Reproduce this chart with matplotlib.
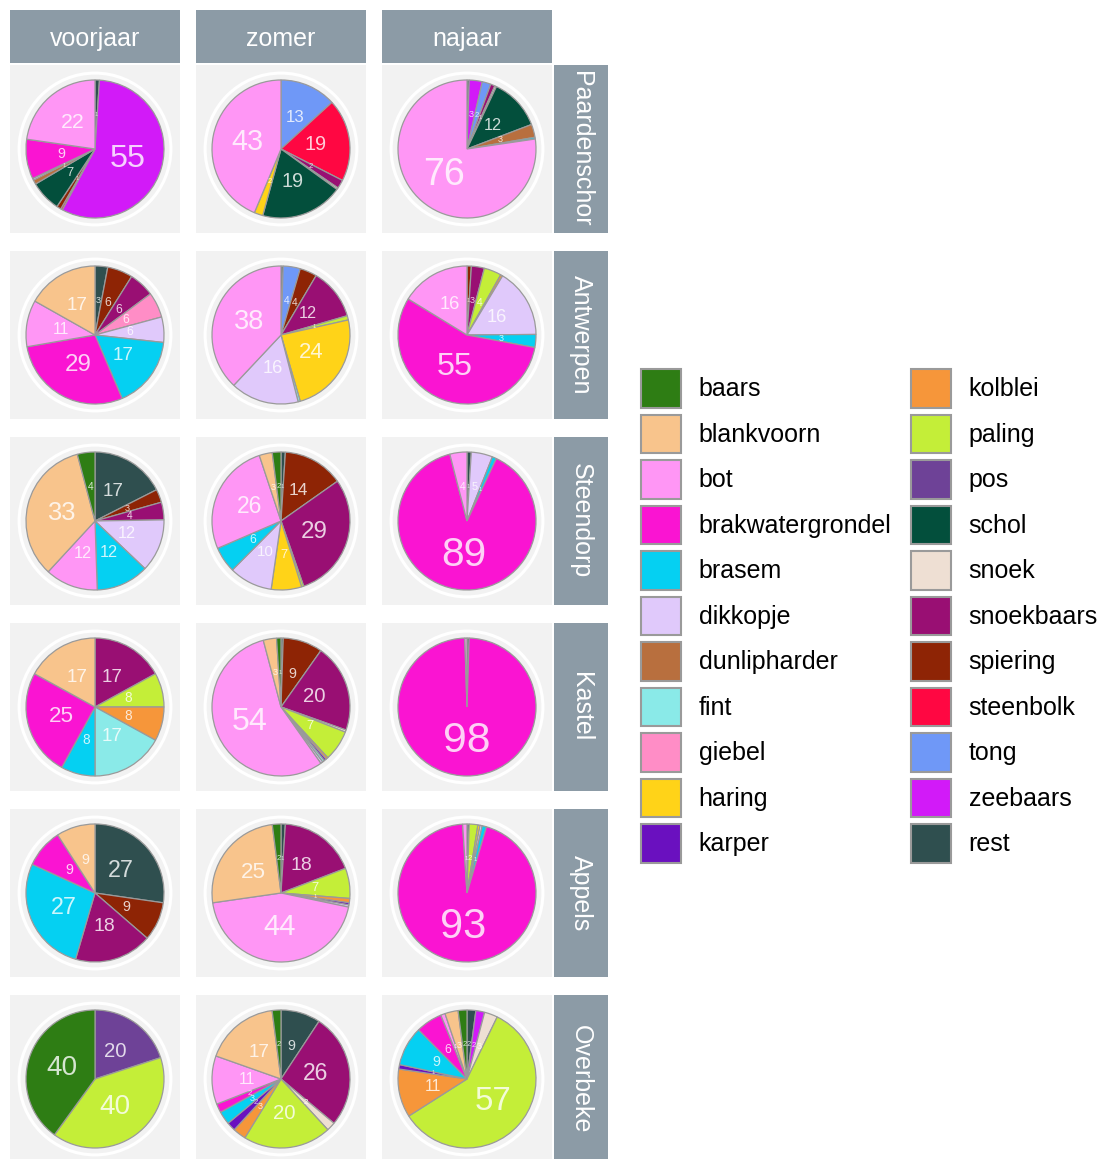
import numpy as np
import matplotlib
matplotlib.use("Agg")
import matplotlib.pyplot as plt
from matplotlib.patches import Patch, Circle
from matplotlib.colors import to_rgb

plt.rcParams['font.family'] = ['Liberation Sans', 'DejaVu Sans']

# species (factor levels) and their fill colours
species = ["baars", "blankvoorn", "bot", "brakwatergrondel", "brasem", "dikkopje",
           "dunlipharder", "fint", "giebel", "haring", "karper", "kolblei", "paling",
           "pos", "schol", "snoek", "snoekbaars", "spiering", "steenbolk", "tong",
           "zeebaars", "rest"]
species_colors = ["#2E7D14", "#F8C48C", "#FF96F5", "#FA14D2", "#05D0F2", "#E0C9FB",
                  "#B86F3E", "#8AEAE8", "#FF8DC6", "#FFD318", "#6A10BF", "#F6963A",
                  "#C4EE38", "#6E4297", "#034F3C", "#EEDFD3", "#990F73", "#8E2405",
                  "#FF0742", "#6F98F7", "#D21AF8", "#2F4F4F"]

seasons = ["voorjaar", "zomer", "najaar"]
locations = ["Paardenschor", "Antwerpen", "Steendorp", "Kastel", "Appels", "Overbeke"]

# catch composition (%) per location and season
paardenschor_voorjaar = dict(rest=1, zeebaars=55, steenbolk=0.4, spiering=1, schol=7,
                             dunlipharder=1, dikkopje=0.4, brakwatergrondel=9, bot=22)
paardenschor_zomer = dict(tong=13, steenbolk=19, snoekbaars=2, snoek=0.4, schol=19,
                          haring=2, bot=43)
paardenschor_najaar = dict(rest=0.5, zeebaars=3, tong=2, snoekbaars=1, snoek=0.4,
                           schol=12, dunlipharder=3, brasem=0.4, bot=76)

antwerpen_voorjaar = dict(rest=3, spiering=6, snoekbaars=6, giebel=6, dikkopje=6,
                          brasem=17, brakwatergrondel=29, bot=11, blankvoorn=17)
antwerpen_zomer = dict(rest=0.5, tong=4, spiering=4, snoekbaars=12, paling=1,
                       haring=24, fint=0.5, dikkopje=16, bot=38)
antwerpen_najaar = dict(spiering=1, snoekbaars=3, paling=4, kolblei=0.5, dikkopje=16,
                        brasem=3, brakwatergrondel=55, bot=16)

steendorp_voorjaar = dict(rest=17, spiering=3, snoekbaars=4, dikkopje=12, brasem=12,
                          bot=12, blankvoorn=33, baars=4)
steendorp_zomer = dict(rest=1, spiering=14, snoekbaars=29, paling=0.5, haring=7,
                       dikkopje=10, brasem=6, bot=26, blankvoorn=3, baars=2)
steendorp_najaar = dict(rest=1, dikkopje=5, brasem=1, brakwatergrondel=89, bot=4)

kastel_voorjaar = dict(snoekbaars=17, paling=8, kolblei=8, fint=17, brasem=8,
                       brakwatergrondel=25, blankvoorn=17)
kastel_zomer = dict(rest=0.5, spiering=9, snoekbaars=20, snoek=0.5, paling=7,
                    kolblei=0.5, karper=0.5, fint=0.5, dikkopje=0.5, bot=54,
                    blankvoorn=3, baars=1)
kastel_najaar = dict(rest=0.5, brakwatergrondel=98, bot=0.5)

appels_voorjaar = dict(rest=27, spiering=9, snoekbaars=18, brasem=27,
                       brakwatergrondel=9, blankvoorn=9)
appels_zomer = dict(rest=1, snoekbaars=18, paling=7, kolblei=1, karper=0.5,
                    dikkopje=0.5, bot=44, blankvoorn=25, baars=2)
appels_najaar = dict(rest=0.5, paling=2, haring=0.5, dikkopje=0.5, brasem=1,
                     brakwatergrondel=93, bot=1)

overbeke_voorjaar = dict(pos=20, paling=40, baars=40)
overbeke_zomer = dict(rest=9, snoekbaars=26, snoek=2, paling=20, kolblei=3, karper=2,
                      brasem=3, brakwatergrondel=2, bot=11, blankvoorn=17, baars=2)
overbeke_najaar = dict(rest=2, zeebaars=2, snoek=3, paling=57, kolblei=11, karper=1,
                       brasem=9, brakwatergrondel=6, bot=1, blankvoorn=3, baars=2)

panels = {
    ("Paardenschor", "voorjaar"): paardenschor_voorjaar,
    ("Paardenschor", "zomer"): paardenschor_zomer,
    ("Paardenschor", "najaar"): paardenschor_najaar,
    ("Antwerpen", "voorjaar"): antwerpen_voorjaar,
    ("Antwerpen", "zomer"): antwerpen_zomer,
    ("Antwerpen", "najaar"): antwerpen_najaar,
    ("Steendorp", "voorjaar"): steendorp_voorjaar,
    ("Steendorp", "zomer"): steendorp_zomer,
    ("Steendorp", "najaar"): steendorp_najaar,
    ("Kastel", "voorjaar"): kastel_voorjaar,
    ("Kastel", "zomer"): kastel_zomer,
    ("Kastel", "najaar"): kastel_najaar,
    ("Appels", "voorjaar"): appels_voorjaar,
    ("Appels", "zomer"): appels_zomer,
    ("Appels", "najaar"): appels_najaar,
    ("Overbeke", "voorjaar"): overbeke_voorjaar,
    ("Overbeke", "zomer"): overbeke_zomer,
    ("Overbeke", "najaar"): overbeke_najaar,
}

color_of = dict(zip(species, species_colors))

PANEL_BG = "#F2F2F2"
STRIP_BG = "#8C9BA6"
EDGE = "#9A9A9A"

W, H = 1105, 1159
fig = plt.figure(figsize=(W / 100, H / 100), dpi=100)
fig.patch.set_facecolor("white")

col_x = [10, 196, 382]
row_y = [65, 251, 437, 623, 809, 995]
PW, PH = 170, 168
R_PX = 69.0  # pie radius in pixels


def px_axes(x, y, w, h):
    return fig.add_axes([x / W, 1 - (y + h) / H, w / W, h / H])


def lighten(c, k=0.8):
    r, g, b = to_rgb(c)
    return (r + (1 - r) * k, g + (1 - g) * k, b + (1 - b) * k)


for i, loc in enumerate(locations):
    for j, season in enumerate(seasons):
        ax = px_axes(col_x[j], row_y[i], PW, PH)
        data = panels[(loc, season)]
        order = [s for s in species[::-1] if data.get(s, 0) > 0]
        vals = [data[s] for s in order]
        cols = [color_of[s] for s in order]
        ax.add_patch(Circle((0, 0), 1.10, fill=False, ec="white", lw=2.2, zorder=0))
        wedges, _, autotexts = ax.pie(
            vals, colors=cols, startangle=90, counterclock=False, radius=1,
            autopct=lambda p: "", pctdistance=0.5,
            wedgeprops=dict(edgecolor=EDGE, linewidth=0.9))
        for t, v, c in zip(autotexts, vals, cols):
            n = int(round(v))
            if n >= 1:
                t.set_text(str(n))
                t.set_fontsize((2 + 4.1 * np.sqrt(n)) * 0.72)
                t.set_color(lighten(c))
        ax.set_frame_on(True)
        ax.set_facecolor(PANEL_BG)
        for sp in ax.spines.values():
            sp.set_visible(False)
        ax.set_xticks([])
        ax.set_yticks([])
        ax.set_aspect("auto")
        ax.set_xlim(-(PW / 2) / R_PX, (PW / 2) / R_PX)
        ax.set_ylim(-(PH / 2) / R_PX, (PH / 2) / R_PX)

# column strips
for j, season in enumerate(seasons):
    sax = px_axes(col_x[j], 10, PW, 53)
    sax.set_facecolor(STRIP_BG)
    sax.set_xticks([]); sax.set_yticks([])
    for sp in sax.spines.values():
        sp.set_visible(False)
    sax.text(0.5, 0.45, season, color="white", fontsize=18, ha="center", va="center",
             transform=sax.transAxes)

# row strips
for i, loc in enumerate(locations):
    sax = px_axes(554, row_y[i], 54, PH)
    sax.set_facecolor(STRIP_BG)
    sax.set_xticks([]); sax.set_yticks([])
    for sp in sax.spines.values():
        sp.set_visible(False)
    sax.text(0.5, 0.5, loc, color="white", fontsize=18, ha="center", va="center",
             rotation=270, transform=sax.transAxes)

# legend
handles = [Patch(facecolor=color_of[s], edgecolor=EDGE, linewidth=1.5) for s in species]
fig.legend(handles, species, ncol=2, loc="upper left",
           bbox_to_anchor=(641 / W, 1 - 369 / H), frameon=False, fontsize=18,
           handlelength=1.6, handleheight=2.0, handletextpad=0.7,
           columnspacing=0.8, labelspacing=0.275, borderpad=0, borderaxespad=0)

fig.savefig("out.png", dpi=100)
